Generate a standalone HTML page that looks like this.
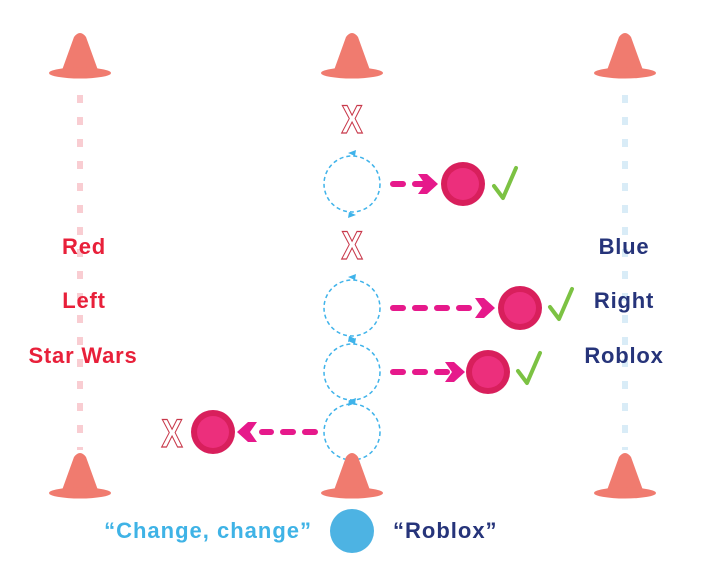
<!DOCTYPE html>
<html><head><style>
body{margin:0;background:#fff;width:720px;height:586px;overflow:hidden}
svg{display:block}
text{font-family:"Liberation Sans",sans-serif;font-weight:bold}
</style></head><body>
<svg width="720" height="586" viewBox="0 0 720 586">
<defs>
<g id="cone"><path d="M-19,18 L-6,-18 Q0,-26 6,-18 L19,18 Z" fill="#f07b6f"/><ellipse cx="0" cy="18" rx="31" ry="5.5" fill="#f07b6f"/></g>
<g id="ball"><circle r="22" fill="#d81f5c"/><circle r="16" fill="#ec2f7c"/></g>
<g id="loop"><circle r="28" fill="none" stroke="#3fb3ea" stroke-width="1.5" stroke-dasharray="4,3"/><path d="M-4,-31 L4,-34 L3,-28Z" fill="#3fb3ea"/><path d="M4,31 L-4,34 L-3,28Z" fill="#3fb3ea"/></g>
<g id="x"><text x="0" y="0" text-anchor="middle" font-size="40" fill="#fff" stroke="#c8384a" stroke-width="1.2" font-weight="normal" transform="scale(0.8,1)">X</text></g>
<g id="chk"><path d="M-12,2 L-3,14 L10,-16" fill="none" stroke="#7cc243" stroke-width="4" stroke-linecap="round" stroke-linejoin="round"/></g>
</defs>
<line x1="80" y1="95" x2="80" y2="450" stroke="#f9cdd2" stroke-width="6" stroke-dasharray="8,14"/>
<line x1="625" y1="95" x2="625" y2="450" stroke="#d9ecf7" stroke-width="6" stroke-dasharray="8,14"/>
<use href="#cone" x="80" y="55"/><use href="#cone" x="352" y="55"/><use href="#cone" x="625" y="55"/>
<use href="#loop" x="352" y="184"/><use href="#loop" x="352" y="308"/><use href="#loop" x="352" y="372"/><use href="#loop" x="352" y="432"/>
<use href="#cone" x="80" y="475"/><use href="#cone" x="352" y="475"/><use href="#cone" x="625" y="475"/>
<use href="#x" x="352" y="133"/><use href="#x" x="352" y="259"/><use href="#x" x="172" y="447"/>
<g stroke="#e6198b" stroke-width="6" stroke-linecap="round" stroke-dasharray="10,12" fill="none">
<line x1="393" y1="184" x2="425" y2="184"/><line x1="393" y1="308" x2="480" y2="308"/><line x1="393" y1="372" x2="450" y2="372"/><line x1="315" y1="432" x2="262" y2="432"/></g>
<g fill="#e6198b">
<path d="M418,174 L427,174 L438,184 L427,194 L418,194 L425,184Z"/>
<path d="M475,298 L484,298 L495,308 L484,318 L475,318 L482,308Z"/>
<path d="M445,362 L454,362 L465,372 L454,382 L445,382 L452,372Z"/>
<path d="M257,422 L248,422 L237,432 L248,442 L257,442 L250,432Z"/></g>
<use href="#ball" x="463" y="184"/><use href="#ball" x="520" y="308"/><use href="#ball" x="488" y="372"/><use href="#ball" x="213" y="432"/>
<use href="#chk" x="506" y="184"/><use href="#chk" x="562" y="305"/><use href="#chk" x="530" y="369"/>
<g font-size="22" text-anchor="middle" fill="#e8203a" letter-spacing="0.8">
<text x="84" y="254">Red</text><text x="84" y="308">Left</text><text x="83" y="363">Star Wars</text></g>
<g font-size="22" text-anchor="middle" fill="#26347a" letter-spacing="0.8">
<text x="624" y="254">Blue</text><text x="624" y="308">Right</text><text x="624" y="363">Roblox</text></g>
<text x="312" y="538" font-size="22" text-anchor="end" fill="#3fb3e6" letter-spacing="1">“Change, change”</text>
<circle cx="352" cy="531" r="22" fill="#4db3e3"/>
<text x="393" y="538" font-size="22" fill="#26347a" letter-spacing="1">“Roblox”</text>
</svg>
</body></html>
